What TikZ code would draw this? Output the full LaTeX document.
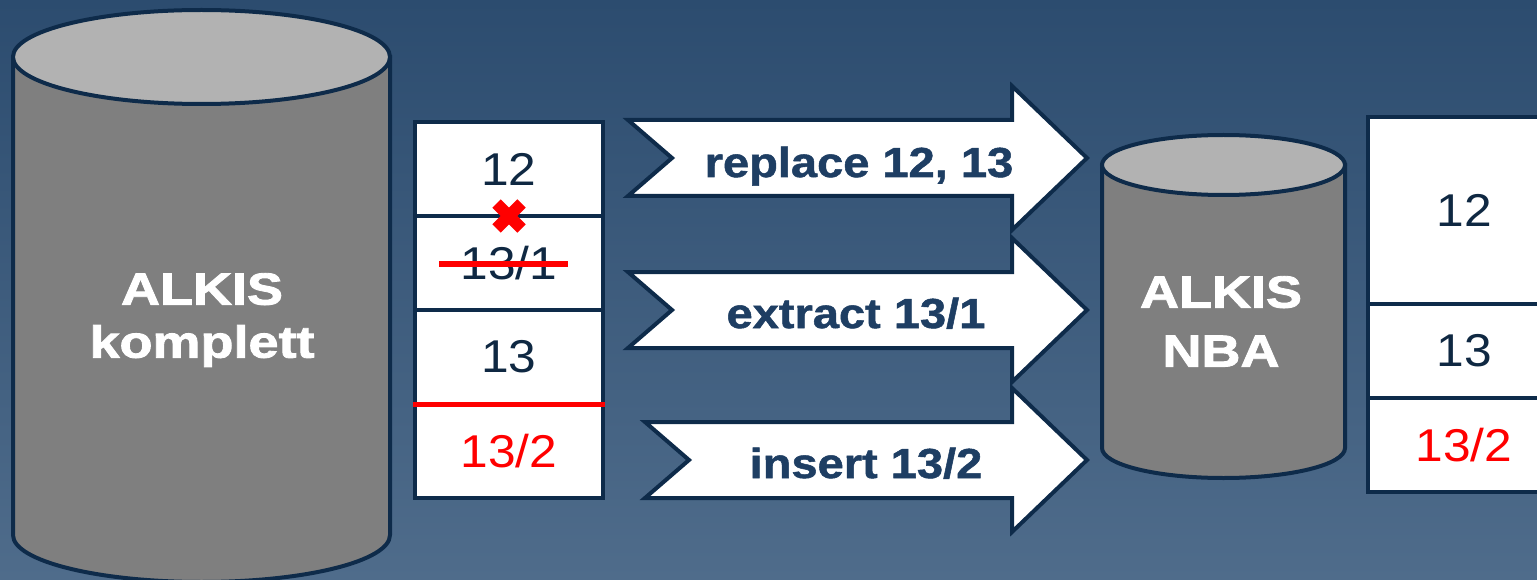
\documentclass[tikz,border=0pt]{standalone}
\usepackage{fontspec}
\setmainfont{Liberation Sans}[FakeStretch=1.08]
\newfontfamily\arrowfont{Liberation Sans}[FakeStretch=1.12,FakeBold=1.2]
\newfontfamily\dbfont{Liberation Sans}[FakeStretch=1.2,FakeBold=2]
\usetikzlibrary{positioning}
\definecolor{bgtop}{RGB}{44,76,111}
\definecolor{bgbot}{RGB}{79,108,139}
\definecolor{navy}{RGB}{14,43,74}
\definecolor{arrowtext}{RGB}{30,62,99}
\definecolor{celltext}{RGB}{15,40,66}
\definecolor{dbside}{RGB}{127,127,127}
\definecolor{dbtop}{RGB}{178,178,178}

\begin{document}
\begin{tikzpicture}[x=1pt,y=-1pt,
  cell/.style={draw=navy,line width=4pt,fill=white,inner sep=0pt,outer sep=0pt,minimum width=188pt,minimum height=94pt,font=\fontsize{46}{50}\selectfont,text=celltext},
  dbshape/.style={draw=navy,line width=4pt},
  dblabel/.style={align=center,anchor=north,inner sep=0pt,text=white,font=\dbfont\bfseries\fontsize{45}{53}\selectfont},
  shiftarrow/.style={draw=navy,line width=4pt,fill=white,line join=miter},
  arrowlabel/.style={anchor=base,text=arrowtext,font=\arrowfont\bfseries\fontsize{42}{50}\selectfont},
  redmark/.style={draw=red,line width=5pt}]
\useasboundingbox (0,0) rectangle (1537,580);
\shade[top color=bgtop,bottom color=bgbot] (0,0) rectangle (1537,580);

% full database
\filldraw[dbshape,fill=dbside] (13,57) -- (13,535) arc[start angle=180,end angle=0,x radius=188.5,y radius=47] -- (390,57) -- cycle;
\filldraw[dbshape,fill=dbtop] (201.5,57) ellipse[x radius=188.5,y radius=47];
\node[dblabel] (komplett) at (202,273) {ALKIS\\komplett};

% NBA database
\filldraw[dbshape,fill=dbside] (1102,165) -- (1102,448) arc[start angle=180,end angle=0,x radius=121.5,y radius=30] -- (1345,165) -- cycle;
\filldraw[dbshape,fill=dbtop] (1223.5,165) ellipse[x radius=121.5,y radius=30];
\node[dblabel,font=\dbfont\bfseries\fontsize{45}{59}\selectfont] (nba) at (1221,276) {ALKIS\\NBA};

% left stack
\node[cell] (c12) at (509,169) {12};
\node[cell,below=0pt of c12] (c131) {13/1};
\node[cell,below=0pt of c131] (c13) {13};
\node[cell,below=0pt of c13,text=red] (c132) {13/2};
\draw[redmark] (c131.center) ++(-70,1) -- ++(129,0);
\draw[redmark,shorten <=-2pt,shorten >=-2pt] (c13.south west) -- (c13.south east);
\draw[redmark,line width=12pt] (c12.south) ++(-12.5,-12.5) -- ++(25,25);
\draw[redmark,line width=12pt] (c12.south) ++(12.5,-12.5) -- ++(-25,25);

% arrows
\foreach \c/\t in {158/628, 310/628, 460/645}
  \draw[shiftarrow] (\t,\c-38) -- (1012,\c-38) -- (1012,\c-72) -- (1087,\c) -- (1012,\c+72) -- (1012,\c+38) -- (\t,\c+38) -- (\t+44,\c) -- cycle;
\node[arrowlabel] (replace) at (859,177) {replace 12, 13};
\node[arrowlabel] (extract) at (856,328) {extract 13/1};
\node[arrowlabel] (insert) at (866,478) {insert 13/2};

% right stack
\node[cell,minimum width=192pt,minimum height=187pt] (r12) at (1464,210.5) {12};
\node[cell,minimum width=192pt,below=0pt of r12] (r13) {13};
\node[cell,minimum width=192pt,below=0pt of r13,text=red] (r132) {13/2};
\end{tikzpicture}
\end{document}
